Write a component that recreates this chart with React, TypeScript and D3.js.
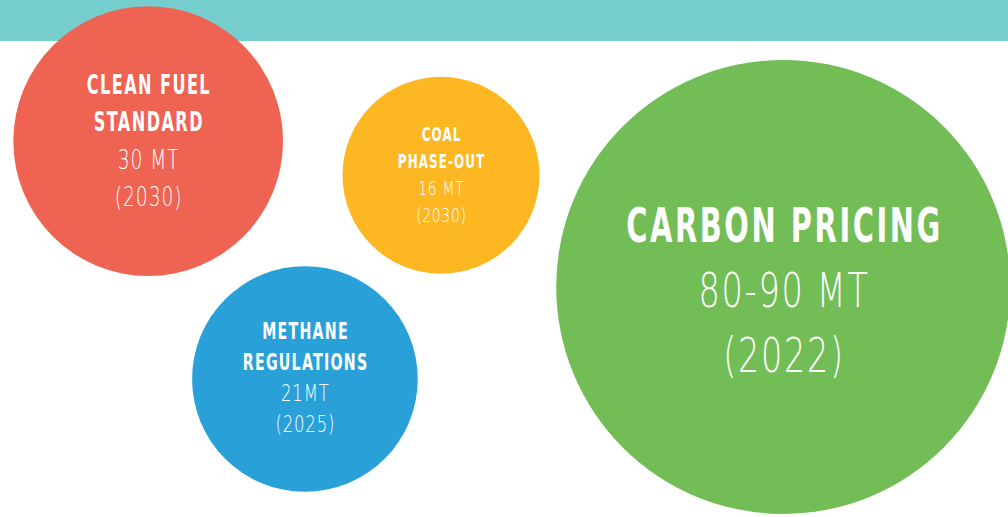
import React, { useEffect } from "react";
import * as d3 from "d3";

const titles = [["CLEAN FUEL", "STANDARD"], ["COAL", "PHASE-OUT"], ["METHANE", "REGULATIONS"], ["CARBON PRICING"]];
const amounts = ["30 MT", "16 MT", "21MT", "80-90 MT"];
const years = ["(2030)", "(2030)", "(2025)", "(2022)"];
const reductionMt = [30, 16, 21, 85];
const colors = ["#ee6352", "#fcb722", "#29a0d8", "#72bd55"];

// layout (fraction of the canvas) - where each bubble sits
const centerX = [0.147, 0.4375, 0.3025, 0.777];
const centerY = [0.273, 0.339, 0.733, 0.555];
// text size per bubble (cap height px) and line step
const capHeight = [19.5, 14.5, 17.2, 35];
const lineStep = [37.5, 27, 31, 65];
const textShift = [-1, -1, -2, 3];

const width = 1008;
const height = 517;
const bandHeight = 41;
const BOLD_FONT = "'DejaVu Sans Condensed', 'DejaVu Sans', sans-serif";
const LIGHT_FONT = "'DejaVu Sans', sans-serif";

export default function App() {
  useEffect(() => {
    document.body.style.margin = "0";
  }, []);

  const x = d3.scaleLinear().domain([0, 1]).range([0, width]);
  const y = d3.scaleLinear().domain([0, 1]).range([0, height]);
  const r = d3.scaleSqrt().domain([0, 85]).range([0, 227]);

  return (
    <svg width={width} height={height} style={{ display: "block", background: "#fff" }}>
      <rect x={0} y={0} width={width} height={bandHeight} fill="#76cdce" />
      {reductionMt.map((v, i) => {
        const cx = x(centerX[i]);
        const cy = y(centerY[i]);
        const cap = capHeight[i];
        const fs = cap / 0.73;
        const lines = [
          ...titles[i].map((t) => ({ t, bold: true })),
          { t: amounts[i], bold: false },
          { t: years[i], bold: false },
        ];
        const blockH = cap + (lines.length - 1) * lineStep[i];
        const top = cy + textShift[i] - blockH / 2;
        return (
          <g key={i}>
            <circle cx={cx} cy={cy} r={r(v)} fill={colors[i]} />
            {lines.map((l, j) => (
              <g
                key={j}
                transform={`translate(${cx},${top + cap + j * lineStep[i]}) scale(${l.bold ? 0.67 : 0.7},1)`}
              >
                <text
                  textAnchor="middle"
                  fill="#fff"
                  fontFamily={l.bold ? BOLD_FONT : LIGHT_FONT}
                  fontWeight={l.bold ? 700 : 200}
                  fontSize={fs}
                  letterSpacing={`${l.bold ? 0.08 : 0.05}em`}
                  dx={`${l.bold ? 0.04 : 0.025}em`}
                >
                  {l.t}
                </text>
              </g>
            ))}
          </g>
        );
      })}
    </svg>
  );
}
